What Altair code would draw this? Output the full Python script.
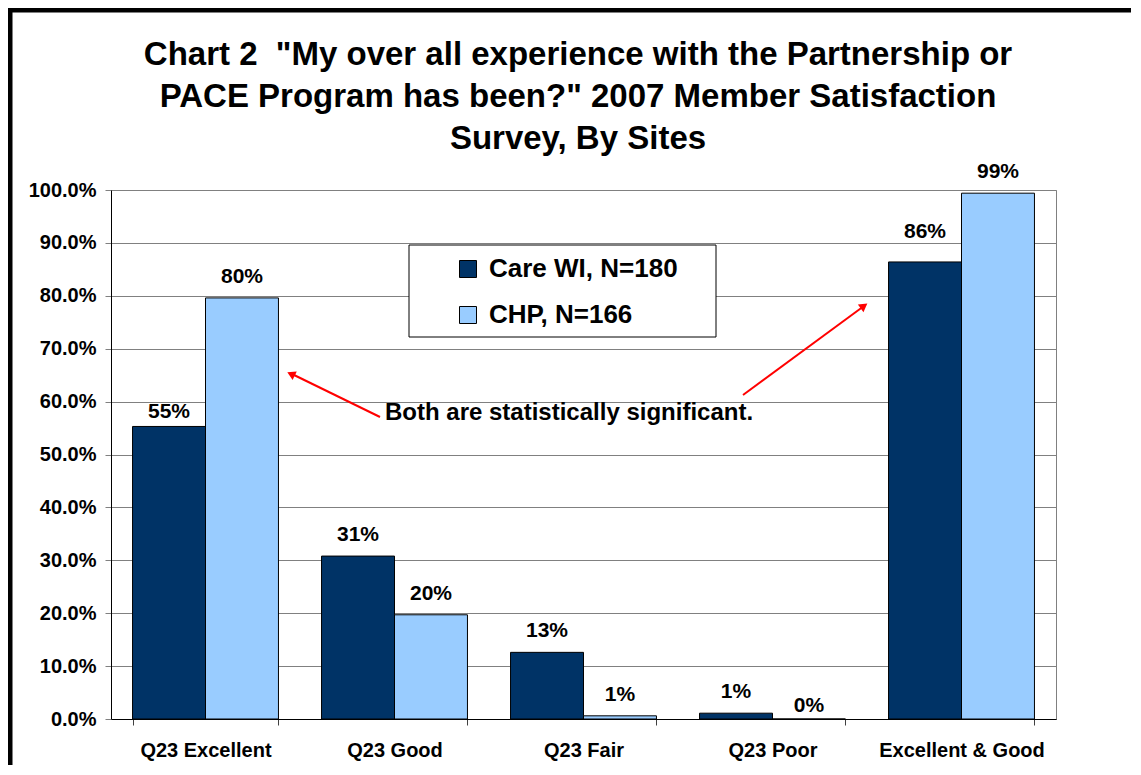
import altair as alt
import pandas as pd

# ---- data ----
categories = ["Q23 Excellent", "Q23 Good", "Q23 Fair", "Q23 Poor", "Excellent & Good"]
series = ["Care WI, N=180", "CHP, N=166"]
care_wi = [0.553, 0.308, 0.126, 0.011, 0.864]
chp = [0.796, 0.197, 0.006, 0.0, 0.994]
y_ticks = [0.0, 0.1, 0.2, 0.3, 0.4, 0.5, 0.6, 0.7, 0.8, 0.9, 1.0]
title_lines = [
    'Chart 2\u00a0 "My over all experience with the Partnership or',
    'PACE Program has been?" 2007 Member Satisfaction',
    'Survey, By Sites',
]
note_text = "Both are statistically significant."
colors = ["#003366", "#99CCFF"]

rows = []
for i, c in enumerate(categories):
    rows.append({"cat": c, "series": series[0], "value": care_wi[i]})
    rows.append({"cat": c, "series": series[1], "value": chp[i]})
df = pd.DataFrame(rows)

FONT = "Liberation Sans"
W, H = 945, 529

x_enc = alt.X(
    "cat:N",
    sort=categories,
    scale=alt.Scale(paddingInner=0.228, paddingOuter=0.114),
    axis=alt.Axis(
        title=None, labelAngle=0, labelFontSize=20, labelFontWeight="bold",
        labelColor="black", labelPadding=15, tickBand="extent", tickSize=6,
        tickColor="#404040", domainColor="black", grid=False,
    ),
)
xo_enc = alt.XOffset("series:N", sort=series)
y_enc = alt.Y(
    "value:Q",
    scale=alt.Scale(domain=[0, 1], nice=False),
    axis=alt.Axis(
        title=None, format=".1%", values=y_ticks, labelFontSize=20,
        labelFontWeight="bold", labelColor="black", labelPadding=9,
        tickSize=6, tickColor="#808080", domainColor="black",
        grid=True, gridColor="#808080", gridWidth=1,
    ),
)
color_enc = alt.Color(
    "series:N",
    sort=series,
    scale=alt.Scale(domain=series, range=colors),
    legend=alt.Legend(
        title=None, orient="none", legendX=344, legendY=66, padding=0,
        symbolType="square", symbolSize=289, symbolStrokeColor="black",
        symbolStrokeWidth=1, labelFontSize=26, labelFontWeight="bold",
        labelColor="black", labelOffset=8, rowPadding=20, labelLimit=500,
    ),
)

base = alt.Chart(df)
one = pd.DataFrame({"a": [0]})

legend_box = alt.Chart(one).mark_rect(
    fill="white", stroke="black", strokeWidth=1
).encode(x=alt.value(298), x2=alt.value(605), y=alt.value(55), y2=alt.value(147))

bars = base.mark_bar(stroke="black", strokeWidth=1).encode(
    x=x_enc, xOffset=xo_enc, y=y_enc, color=color_enc
)

lab_style = dict(fontSize=21, fontWeight="bold", color="black", baseline="alphabetic")
special = {("Q23 Excellent", series[0]): -8,
           ("Excellent & Good", series[0]): -24,
           ("Q23 Poor", series[1]): -7}
normal_filter = " && ".join(
    f"!(datum.cat === '{c}' && datum.series === '{s}')" for (c, s) in special
)
labels = [
    base.transform_filter(normal_filter).mark_text(dy=-15, **lab_style).encode(
        x=alt.X("cat:N", sort=categories), xOffset=xo_enc, y="value:Q",
        text=alt.Text("value:Q", format=".0%"),
    )
]
for (c, s), d in special.items():
    labels.append(
        base.transform_filter(f"datum.cat === '{c}' && datum.series === '{s}'")
        .mark_text(dy=d, **lab_style)
        .encode(x=alt.X("cat:N", sort=categories), xOffset=xo_enc, y="value:Q",
                text=alt.Text("value:Q", format=".0%"))
    )

note = alt.Chart(one).mark_text(
    align="left", baseline="alphabetic", fontSize=24, fontWeight="bold", color="black"
).encode(x=alt.value(274), y=alt.value(230), text=alt.value(note_text))

arrow1 = alt.Chart(one).mark_rule(color="red", strokeWidth=2).encode(
    x=alt.value(269), y=alt.value(227), x2=alt.value(181), y2=alt.value(184)
)
head1 = alt.Chart(one).mark_point(
    shape="triangle-up", filled=True, color="red", size=90, angle=296, opacity=1
).encode(x=alt.value(180), y=alt.value(184))
arrow2 = alt.Chart(one).mark_rule(color="red", strokeWidth=2).encode(
    x=alt.value(632), y=alt.value(205), x2=alt.value(753), y2=alt.value(116)
)
head2 = alt.Chart(one).mark_point(
    shape="triangle-up", filled=True, color="red", size=90, angle=54, opacity=1
).encode(x=alt.value(753), y=alt.value(116))

title = alt.Chart(one).mark_text(
    align="center", baseline="alphabetic", fontSize=33, fontWeight="bold",
    color="black", lineHeight=42,
).encode(x=alt.value(467), y=alt.value(-125), text=alt.value(title_lines))

# outer chart frame: only its left and top edges fall inside the picture
frame_left = alt.Chart(one).mark_rule(color="black", strokeWidth=5).encode(
    x=alt.value(-101), y=alt.value(-182), y2=alt.value(575)
)
frame_top = alt.Chart(one).mark_rule(color="black", strokeWidth=5).encode(
    x=alt.value(-103), x2=alt.value(1020), y=alt.value(-180)
)

chart = alt.layer(
    legend_box, bars, *labels, note, arrow1, head1, arrow2, head2, title,
    frame_left, frame_top,
).properties(
    width=W, height=H, autosize="none",
    padding={"left": 103, "top": 182, "right": 77, "bottom": 46},
).configure(font=FONT).configure_view(stroke="#808080", strokeWidth=1)

chart.save("out.html", embed_options={"renderer": "svg", "actions": False})
